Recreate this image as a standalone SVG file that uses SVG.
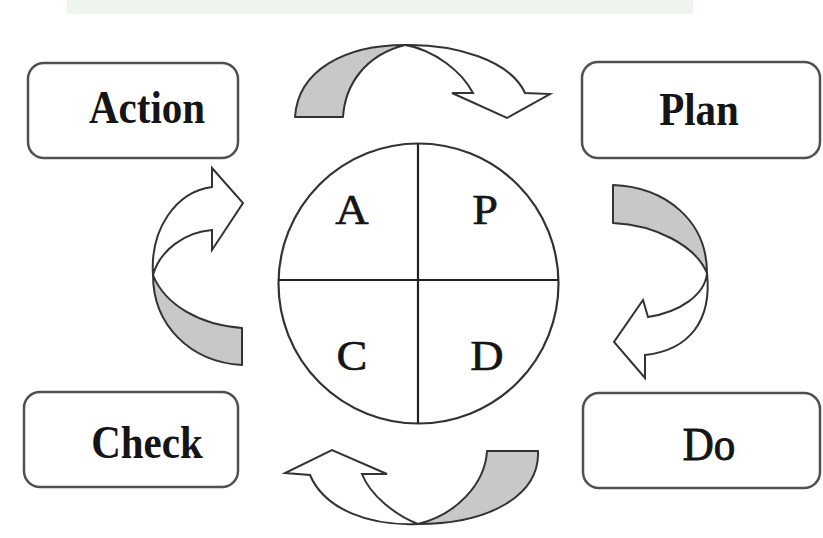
<svg xmlns="http://www.w3.org/2000/svg" width="823" height="538" viewBox="0 0 823 538">
<style>
.box{fill:#fff;stroke:#505050;stroke-width:2.5}
.lbl{font-family:"Liberation Serif","Times New Roman",serif;font-weight:bold;font-size:41px;fill:#151515;text-anchor:middle}
.reg{font-weight:normal;font-size:43px;stroke:#151515;stroke-width:0.9}
.let{font-family:"Liberation Serif","Times New Roman",serif;font-size:42px;fill:#151515;text-anchor:middle;stroke:#151515;stroke-width:0.6}
.ring{fill:#fff;stroke:#333;stroke-width:2.2}
.div{stroke:#222;stroke-width:2.2}
.back{fill:#c8c8c8;stroke:#333;stroke-width:2;stroke-linejoin:round}
.front{fill:#fff;stroke:#333;stroke-width:2;stroke-linejoin:miter}
</style>
<rect width="823" height="538" fill="#fff"/>
<rect x="67" y="0" width="626" height="14" fill="#eef5ee"/>
<g id="action">
<rect class="box" x="28" y="63" width="210" height="95" rx="16"/>
<text class="lbl" transform="translate(147,123) scale(1,1.15)">Action</text>
</g>
<g id="plan">
<rect class="box" x="582" y="62" width="238" height="96" rx="16"/>
<text class="lbl" transform="translate(699,125) scale(1,1.15)">Plan</text>
</g>
<g id="do">
<rect class="box" x="583" y="393" width="237" height="95" rx="16"/>
<text class="lbl reg" transform="translate(709,460) scale(1,1.1)">Do</text>
</g>
<g id="check">
<rect class="box" x="24" y="392" width="214" height="95" rx="16"/>
<text class="lbl" transform="translate(147,458) scale(1,1.15)">Check</text>
</g>
<g id="pdca-circle">
<circle class="ring" cx="418.5" cy="283.5" r="140"/>
<line class="div" x1="278.5" y1="280" x2="558.5" y2="280"/>
<line class="div" x1="418" y1="143.5" x2="418" y2="423.5"/>
<text class="let" transform="translate(352,224) scale(1.1,1)">A</text>
<text class="let" transform="translate(485,224) scale(1.1,1)">P</text>
<text class="let" transform="translate(352,370) scale(1.1,1)">C</text>
<text class="let" transform="translate(487,370) scale(1.1,1)">D</text>
</g>
<g id="connectors">
<g id="action-to-plan">
<path class="back" d="M295,117 C298,70 345,45 405,45 C365,55 345,85 343,117 Z"/>
<path class="front" d="M405,45 C455,44 510,60 525,93 L550,94 L507,118 L452,93 L473,93 C462,72 435,50 405,45 Z"/>
</g>
<g id="plan-to-do">
<path class="back" d="M613,185 C665,187 707,220 707,273 C695,245 655,225 613,223 Z"/>
<path class="front" d="M707,273 C705,295 680,312 648,317 L643,300 L614,342 L645,378 L645,355 C690,350 712,320 707,273 Z"/>
</g>
<g id="do-to-check">
<path class="back" d="M538,451 C540,495 490,524 418,524 C455,515 485,485 487,451 Z"/>
<path class="front" d="M418,524 C370,526 325,510 310,475 L285,473 L332,450 L387,474 L362,474 C370,495 395,515 418,524 Z"/>
</g>
<g id="check-to-action">
<path class="back" d="M242,365 C190,362 153,325 153,275 C165,305 200,325 242,328 Z"/>
<path class="front" d="M153,275 C150,230 175,192 212,187 L212,168 L243,203 L212,250 L212,230 C185,232 160,250 153,275 Z"/>
</g>
</g>
</svg>
